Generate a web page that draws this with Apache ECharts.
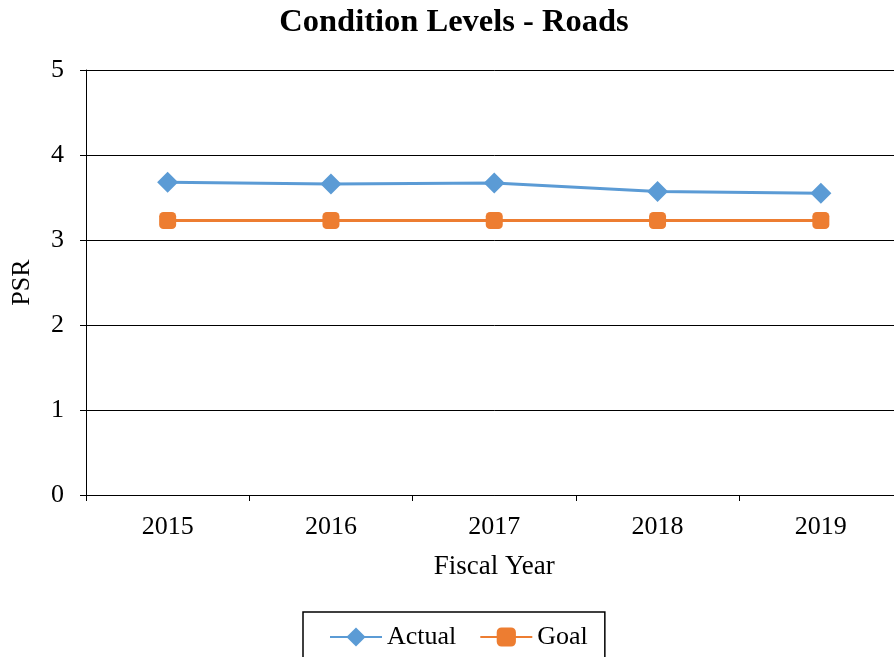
<!DOCTYPE html>
<html>
<head>
<meta charset="utf-8">
<script src="https://cdn.jsdelivr.net/npm/echarts@6/dist/echarts.min.js"></script>
<style>html,body{margin:0;padding:0;background:#fff;overflow:hidden;width:894px;height:657px;}#c{width:903px;height:657px;}</style>
</head>
<body>
<div id="c"></div>
<script>
var categories = ['2015', '2016', '2017', '2018', '2019'];
var actual = [3.68, 3.66, 3.67, 3.57, 3.55];
var goal = [3.23, 3.23, 3.23, 3.23, 3.23];
var yTicks = [0, 1, 2, 3, 4, 5];

var FONT = '"Liberation Serif", "Times New Roman", serif';
var chart = echarts.init(document.getElementById('c'));
chart.setOption({
  backgroundColor: '#fff',
  animation: false,
  title: {
    text: 'Condition Levels - Roads',
    left: 449, top: 1, textAlign: 'center',
    textStyle: { fontFamily: FONT, fontWeight: 'bold', fontSize: 32.5, color: '#000' }
  },
  grid: { left: 86, top: 70, height: 425, width: 816.5, containLabel: false, outerBoundsMode: 'none' },
  legend: {
    data: ['Actual', 'Goal'],
    left: 303, top: 612,
    padding: [12, 17, 40, 26],
    borderColor: '#000', borderWidth: 1.5,
    itemWidth: 52, itemHeight: 24, itemGap: 23,
    textStyle: { fontFamily: FONT, fontSize: 26, color: '#000' }
  },
  xAxis: {
    type: 'category', data: categories, boundaryGap: true,
    name: 'Fiscal Year', nameLocation: 'middle', nameGap: 58,
    nameTextStyle: { fontFamily: FONT, fontSize: 27, color: '#000' },
    axisLine: { lineStyle: { color: '#000', width: 1 } },
    axisTick: { show: true, length: 6, lineStyle: { color: '#000' } },
    axisLabel: { fontFamily: FONT, fontSize: 26, color: '#000', margin: 19 }
  },
  yAxis: {
    type: 'value', min: yTicks[0], max: yTicks[yTicks.length - 1], interval: 1,
    name: 'PSR', nameLocation: 'middle', nameGap: 51, nameRotate: 90,
    nameTextStyle: { fontFamily: FONT, fontSize: 26, color: '#000' },
    axisLine: { show: true, lineStyle: { color: '#000', width: 1 } },
    axisTick: { show: true, length: 6, lineStyle: { color: '#000' } },
    axisLabel: { fontFamily: FONT, fontSize: 26, color: '#000', margin: 22 },
    splitLine: { show: true, lineStyle: { color: '#000', width: 1 } }
  },
  series: [
    {
      name: 'Actual', type: 'line', data: actual,
      symbol: 'diamond', symbolSize: 21,
      lineStyle: { color: '#5B9BD5', width: 3 },
      itemStyle: { color: '#5B9BD5' }
    },
    {
      name: 'Goal', type: 'line', data: goal,
      symbol: 'roundRect', symbolSize: 17,
      lineStyle: { color: '#ED7D31', width: 3 },
      itemStyle: { color: '#ED7D31' }
    }
  ]
});
</script>
</body>
</html>
